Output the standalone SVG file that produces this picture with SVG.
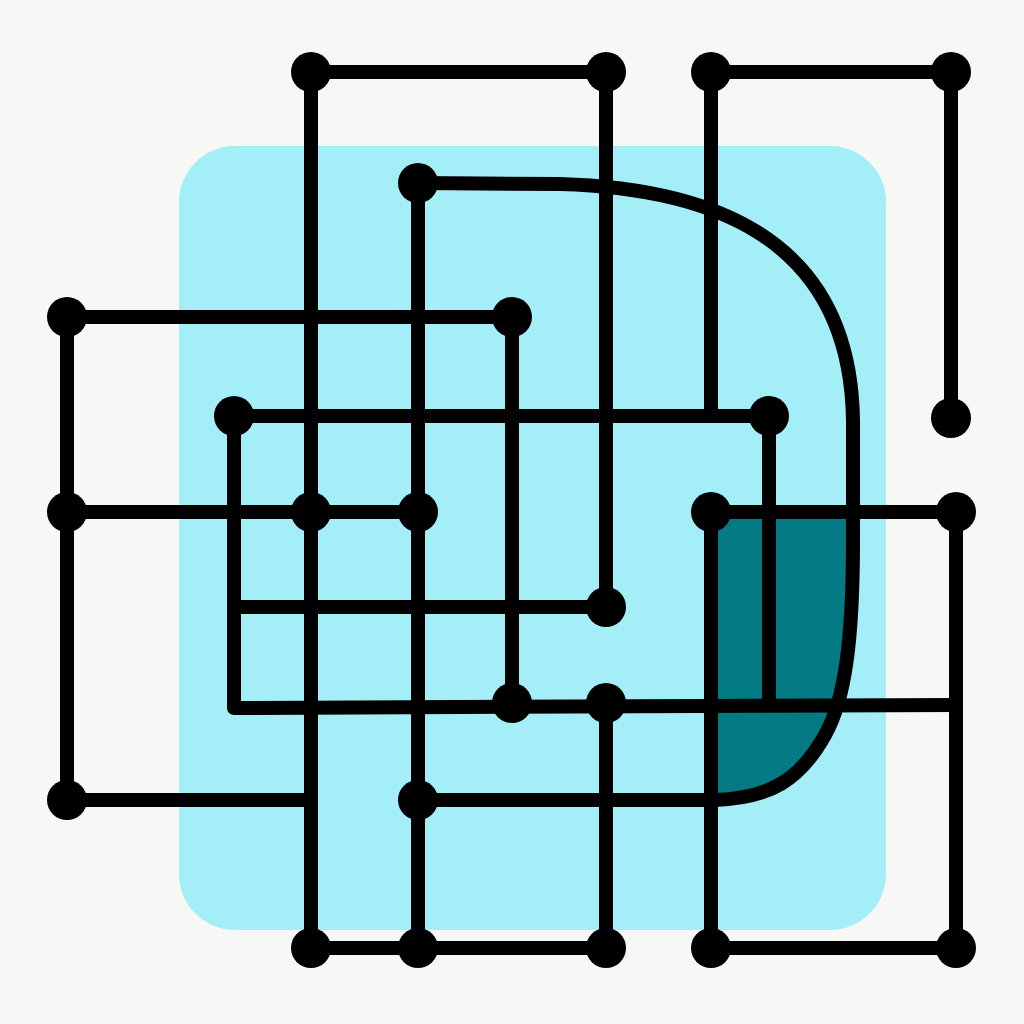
<svg xmlns="http://www.w3.org/2000/svg" width="1024" height="1024" viewBox="0 0 1024 1024">
<style>
.ln{fill:none;stroke:#000;stroke-width:14;stroke-linecap:round;stroke-linejoin:round}
.dot{fill:#000}
</style>
<rect width="1024" height="1024" fill="#f7f7f6"/>
<rect x="179" y="146" width="707" height="784" rx="56" fill="#a4eef8"/>
<path d="M711,512 L853,512 L853,540 C853,640 845,700 825,735 C800,780 770,798 715,800 L711,800 Z" fill="#047a85"/>
<g id="connectors" class="ln">
<path d="M311,72 L606,72"/>
<path d="M311,72 L311,948"/>
<path d="M606,72 L606,607"/>
<path d="M711,72 L951,72"/>
<path d="M711,72 L711,410"/>
<path d="M951,72 L951,418"/>
<path d="M418,183 L560,184 C700,188 850,230 853,420 L853,540 C853,640 845,700 825,735 C800,780 770,798 715,800 L418,800"/>
<path d="M418,183 L418,948"/>
<path d="M67,317 L512,317"/>
<path d="M67,317 L67,800"/>
<path d="M512,317 L512,703"/>
<path d="M234,416 L769,416"/>
<path d="M234,416 L234,708 L956,705"/>
<path d="M769,416 L769,705"/>
<path d="M67,512 L418,512"/>
<path d="M711,512 L956,512"/>
<path d="M711,512 L711,948"/>
<path d="M956,512 L956,948"/>
<path d="M234,607 L606,607"/>
<path d="M606,703 L606,948"/>
<path d="M67,800 L311,800"/>
<path d="M311,948 L606,948"/>
<path d="M711,948 L956,948"/>
</g>
<g id="n1"><circle class="dot" cx="311" cy="72" r="20"/></g>
<g id="n2"><circle class="dot" cx="606" cy="72" r="20"/></g>
<g id="n3"><circle class="dot" cx="711" cy="72" r="20"/></g>
<g id="n4"><circle class="dot" cx="951" cy="72" r="20"/></g>
<g id="n5"><circle class="dot" cx="418" cy="183" r="20"/></g>
<g id="n6"><circle class="dot" cx="67" cy="317" r="20"/></g>
<g id="n7"><circle class="dot" cx="512" cy="317" r="20"/></g>
<g id="n8"><circle class="dot" cx="234" cy="416" r="20"/></g>
<g id="n9"><circle class="dot" cx="769" cy="416" r="20"/></g>
<g id="n10"><circle class="dot" cx="951" cy="418" r="20"/></g>
<g id="n11"><circle class="dot" cx="67" cy="512" r="20"/></g>
<g id="n12"><circle class="dot" cx="311" cy="512" r="20"/></g>
<g id="n13"><circle class="dot" cx="418" cy="512" r="20"/></g>
<g id="n14"><circle class="dot" cx="711" cy="512" r="20"/></g>
<g id="n15"><circle class="dot" cx="956" cy="512" r="20"/></g>
<g id="n16"><circle class="dot" cx="606" cy="607" r="20"/></g>
<g id="n17"><circle class="dot" cx="512" cy="703" r="20"/></g>
<g id="n18"><circle class="dot" cx="606" cy="703" r="20"/></g>
<g id="n19"><circle class="dot" cx="67" cy="800" r="20"/></g>
<g id="n20"><circle class="dot" cx="418" cy="800" r="20"/></g>
<g id="n21"><circle class="dot" cx="311" cy="948" r="20"/></g>
<g id="n22"><circle class="dot" cx="418" cy="948" r="20"/></g>
<g id="n23"><circle class="dot" cx="606" cy="948" r="20"/></g>
<g id="n24"><circle class="dot" cx="711" cy="948" r="20"/></g>
<g id="n25"><circle class="dot" cx="956" cy="948" r="20"/></g>
</svg>
